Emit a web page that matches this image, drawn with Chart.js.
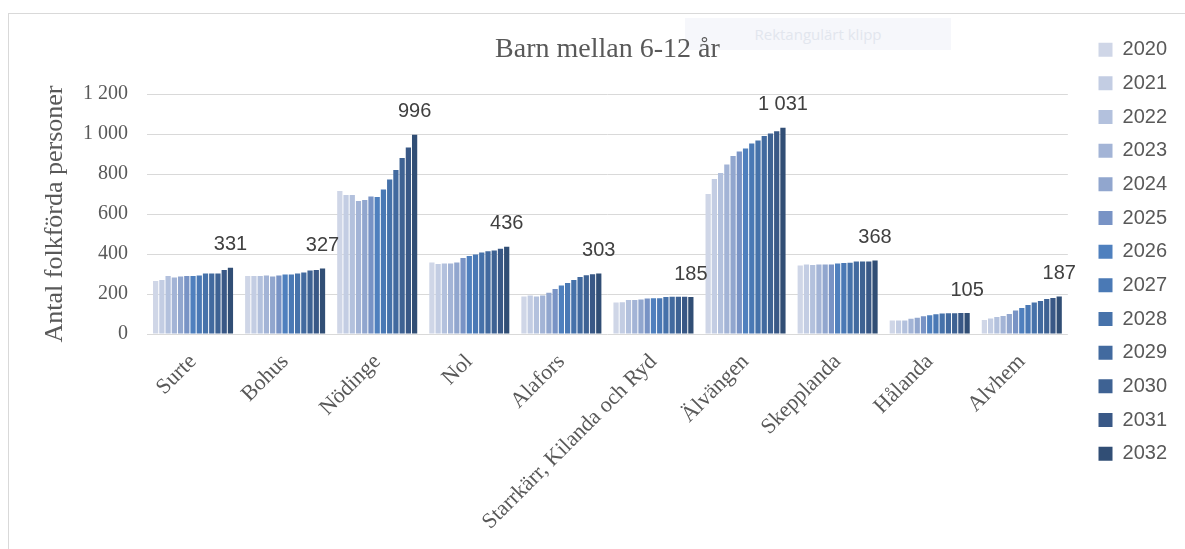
<!DOCTYPE html>
<html>
<head>
<meta charset="utf-8">
<script src="https://cdn.jsdelivr.net/npm/chart.js@4/dist/chart.umd.min.js"></script>
<style>
  html, body { margin: 0; padding: 0; background: #ffffff; }
  #wrap { position: relative; width: 1185px; height: 549px; overflow: hidden; }
  #frame { position: absolute; left: 8px; top: 13px; right: -2px; bottom: -2px;
           border-top: 1px solid #d9d9d9; border-left: 1px solid #d9d9d9; z-index: 0; }
  #clip { position: absolute; left: 685px; top: 18px; width: 266px; height: 32px;
          background: #f6f7fb; color: #e2e6ee; font: 15px "Open Sans", sans-serif;
          text-align: center; line-height: 32px; z-index: 0; }
  #c { position: absolute; left: 0; top: 0; z-index: 1; }
</style>
</head>
<body>
<div id="wrap">
  <div id="frame"></div>
  <div id="clip">Rektangulärt klipp</div>
  <canvas id="c" width="1185" height="549"></canvas>
</div>
<script>
const categories = ["Surte", "Bohus", "Nödinge", "Nol", "Alafors",
  "Starrkärr, Kilanda och Ryd", "Älvängen", "Skepplanda", "Hålanda", "Alvhem"];
const years = ["2020","2021","2022","2023","2024","2025","2026","2027","2028","2029","2030","2031","2032"];

// values per area, one entry per year 2020..2032
const surte      = [265, 270, 290, 283, 287, 290, 290, 292, 302, 303, 303, 320, 331];
const bohus      = [290, 290, 290, 293, 287, 293, 297, 297, 302, 308, 317, 320, 327];
const nodinge    = [715, 695, 695, 665, 670, 688, 685, 722, 772, 820, 880, 932, 996];
const nol        = [357, 350, 352, 352, 357, 380, 390, 398, 408, 414, 418, 426, 436];
const alafors    = [187, 193, 187, 193, 206, 225, 242, 255, 270, 285, 294, 299, 303];
const starrkarr  = [157, 159, 170, 170, 173, 177, 179, 179, 185, 186, 186, 186, 185];
const alvangen   = [700, 775, 805, 848, 890, 912, 927, 953, 968, 990, 1002, 1014, 1031];
const skepplanda = [343, 348, 345, 348, 348, 348, 352, 355, 356, 362, 362, 362, 368];
const halanda    = [68, 68, 68, 76, 81, 89, 94, 99, 103, 104, 104, 105, 105];
const alvhem     = [70, 77, 85, 90, 100, 117, 130, 145, 157, 165, 175, 180, 187];

const areaValues = [surte, bohus, nodinge, nol, alafors, starrkarr, alvangen, skepplanda, halanda, alvhem];

const yTicks = [0, 200, 400, 600, 800, 1000, 1200];

const colors = ["#cfd6e7", "#c3cde3", "#b3c1dd", "#a3b4d6", "#91a6ce", "#7893c5",
  "#4f80be", "#4a79b5", "#4672aa", "#426a9f", "#3e6293", "#395886", "#314e75"];

function fmt(v) { return String(v).replace(/\B(?=(\d{3})+(?!\d))/g, " "); }

const datasets = years.map((y, i) => ({
  label: y,
  data: areaValues.map(a => a[i]),
  backgroundColor: colors[i],
  borderWidth: 0,
  categoryPercentage: 0.88,
  barPercentage: 0.84
}));

const lastLabels = {
  id: "lastLabels",
  afterDatasetsDraw(chart) {
    const idx = chart.data.datasets.length - 1;
    const meta = chart.getDatasetMeta(idx);
    const ctx = chart.ctx;
    ctx.save();
    ctx.font = '20px "Liberation Sans", Arial, sans-serif';
    ctx.fillStyle = "#404040";
    ctx.textAlign = "center";
    ctx.textBaseline = "middle";
    meta.data.forEach((bar, i) => {
      ctx.fillText(fmt(chart.data.datasets[idx].data[i]), bar.x, bar.y - 23);
    });
    ctx.restore();
  }
};

new Chart(document.getElementById("c"), {
  type: "bar",
  data: { labels: categories, datasets },
  plugins: [lastLabels],
  options: {
    responsive: false,
    animation: false,
    devicePixelRatio: 1,
    layout: { padding: { left: 36, right: 8, top: 26, bottom: 0 } },
    plugins: {
      title: {
        display: true,
        fullSize: false,
        text: "Barn mellan 6-12 år",
        color: "#595959",
        font: { family: '"Liberation Serif", serif', size: 28, weight: "normal" },
        padding: { top: 7, bottom: 27.4 }
      },
      legend: {
        display: true,
        position: "right",
        align: "start",
        labels: {
          boxWidth: 14,
          boxHeight: 14,
          padding: 13.67,
          color: "#595959",
          font: { family: '"Liberation Sans", Arial, sans-serif', size: 20 }
        }
      },
      tooltip: { enabled: false }
    },
    scales: {
      x: {
        grid: { display: false },
        border: { display: false },
        ticks: {
          color: "#595959",
          font: { family: '"Liberation Serif", serif', size: 22 },
          minRotation: 45,
          maxRotation: 45,
          autoSkip: false,
          padding: 7
        },
        afterFit(s) { s.height = 215; s.paddingLeft = 0; s.paddingRight = 0; }
      },
      y: {
        min: 0,
        max: 1200,
        afterBuildTicks(s) { s.ticks = yTicks.map(v => ({ value: v })); },
        grid: { color: "#d9d9d9", lineWidth: 1, drawTicks: false },
        border: { display: false },
        ticks: {
          color: "#595959",
          font: { family: '"Liberation Serif", serif', size: 20 },
          padding: 19,
          callback: v => fmt(v)
        },
        title: {
          display: true,
          text: "Antal folkförda personer",
          color: "#595959",
          font: { family: '"Liberation Serif", serif', size: 26, weight: "normal" },
          padding: { top: 4, bottom: 11 }
        },
        afterFit(s) { s.width = 111; }
      },
      yR: {
        type: "linear",
        position: "right",
        display: true,
        grid: { display: false },
        border: { display: false },
        ticks: { display: false },
        afterFit(s) { s.width = 17; }
      }
    }
  }
});
</script>
</body>
</html>
